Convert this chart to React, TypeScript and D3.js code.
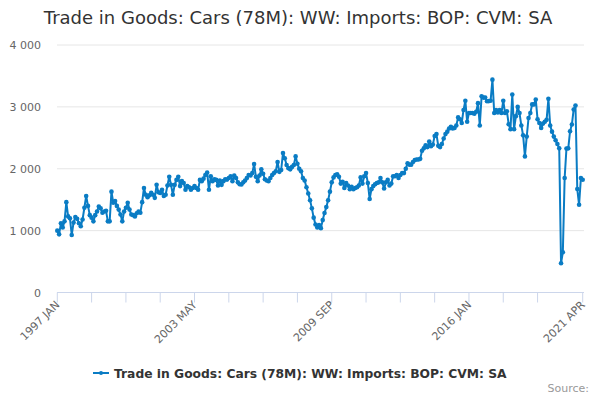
import React from "react";
import * as d3 from "d3";

const title = "Trade in Goods: Cars (78M): WW: Imports: BOP: CVM: SA";
const seriesName = "Trade in Goods: Cars (78M): WW: Imports: BOP: CVM: SA";
const startYear = 1997;
const monthNames = ["JAN","FEB","MAR","APR","MAY","JUN","JUL","AUG","SEP","OCT","NOV","DEC"];

// Monthly values, 1997 JAN .. 2021 APR
const values1997to2004 = [
  1000, 940, 1120, 1050, 1150, 1460, 1230, 1200, 930, 1130,
  1220, 1190, 1120, 1070, 1180, 1370, 1560, 1400, 1250, 1210,
  1150, 1250, 1310, 1390, 1360, 1290, 1310, 1320, 1150, 1150,
  1630, 1450, 1480, 1400, 1340, 1260, 1150, 1310, 1370, 1450,
  1340, 1260, 1250, 1230, 1280, 1310, 1290, 1460, 1690, 1580,
  1540, 1570, 1610, 1580, 1530, 1740, 1620, 1610, 1660, 1560,
  1580, 1730, 1870, 1740, 1580, 1740, 1820, 1870, 1720, 1800,
  1770, 1660, 1720, 1700, 1660, 1690, 1720, 1690, 1660, 1820,
  1800, 1840, 1900, 1940, 1660,
];
const values2004to2012 = [
  1877, 1800, 1830, 1820, 1730, 1810, 1740, 1800, 1830, 1825,
  1850, 1880, 1800, 1890, 1850, 1780, 1750, 1746, 1780, 1810,
  1850, 1900, 1890, 1930, 2077, 1870, 1800, 1890, 1990, 1920,
  1830, 1810, 1800, 1850, 1900, 1930, 1960, 2110, 1950, 1980,
  2255, 2170, 2060, 2010, 1990, 2030, 2060, 2200, 2080, 2000,
  1960, 1850, 1810, 1700, 1600, 1490, 1360, 1210, 1100, 1050,
  1090, 1040, 1170, 1285, 1380, 1490, 1630, 1780, 1860, 1900,
  1910, 1870, 1760, 1790, 1690, 1770, 1730, 1670, 1710, 1670,
  1690, 1700, 1730, 1860, 1760, 1880, 1930, 1770, 1510, 1670,
  1720, 1750, 1770, 1780, 1850, 1780, 1680, 1780, 1820,
];
const values2012to2021 = [
  1730, 1760, 1880, 1880, 1900, 1850, 1900, 1930, 1930, 2000,
  2090, 2066, 2066, 2110, 2140, 2150, 2150, 2160, 2290, 2330,
  2380, 2350, 2440, 2363, 2390, 2530, 2560, 2370, 2350, 2400,
  2490, 2560, 2600, 2650, 2680, 2650, 2660, 2700, 2830, 2800,
  2740, 2950, 3100, 2760, 2900, 2900, 2900, 2890, 2920, 3060,
  2700, 3170, 3150, 3150, 3090, 3093, 3100, 3440, 2900, 2950,
  2910, 2950, 2900, 3100, 2900, 2930, 2720, 2640, 3200, 2640,
  2850, 3000, 2900, 2700, 2540, 2200, 2520, 2820, 2900, 3040,
  3040, 3120, 2800, 2740, 2660, 2730, 2760, 2790, 3130, 2700,
  2600, 2520, 2460, 2400, 2330, 473, 650, 1850, 2326, 2330,
  2606, 2715, 2958, 3023, 1672, 1418, 1850, 1823,
];
const values = [...values1997to2004, ...values2004to2012, ...values2012to2021];
const categories = values.map((_, i) => `${startYear + Math.floor(i / 12)} ${monthNames[i % 12]}`);

const yTicks = [0, 1000, 2000, 3000, 4000];
const xTickLabels = ["1997 JAN", "2003 MAY", "2009 SEP", "2016 JAN", "2021 APR"];

const W = 600, H = 400;
const FONT = "'DejaVu Sans', sans-serif";
const COLOR = "#0a7cc4";

export default function App() {
  const x = d3.scaleLinear().domain([0, values.length - 1]).range([57.3, 582.7]);
  const y = d3.scaleLinear().domain([0, 4000]).range([292.5, 45]);
  const line = d3.line<number>().x((_, i) => x(i)).y((d) => y(d));
  const tickIdx: number[] = [];
  for (let i = 0; i < values.length - 10; i += 19) tickIdx.push(i);
  tickIdx.push(values.length - 1);
  const labelIdx = xTickLabels.map((l) => categories.indexOf(l));
  const fmt = (v: number) => d3.format(",")(v).replace(/,/g, " ");
  return (
    <svg width={W} height={H} style={{ display: "block", position: "absolute", left: 0, top: 0 }} fontFamily={FONT}>
      <rect width={W} height={H} fill="#fff" />
      <text x={298} y={24} textAnchor="middle" fontSize={18} fill="#333">{title}</text>
      {yTicks.map((t) => (
        <g key={t}>
          {t > 0 && <line x1={57} x2={584} y1={y(t)} y2={y(t)} stroke="#e6e6e6" strokeWidth={1} />}
          <text x={41} y={y(t) + 4} textAnchor="end" fontSize={11} fill="#666">{fmt(t)}</text>
        </g>
      ))}
      <line x1={57} x2={584} y1={y(0)} y2={y(0)} stroke="#ccd6eb" strokeWidth={1} />
      {tickIdx.map((i) => (
        <line key={i} x1={x(i)} x2={x(i)} y1={y(0)} y2={y(0) + 10} stroke="#ccd6eb" strokeWidth={1} />
      ))}
      {labelIdx.map((i, k) => (
        <text key={k} transform={`translate(${x(i) + 3},${y(0) + 13}) rotate(-45)`} textAnchor="end" fontSize={11} fill="#666">
          {xTickLabels[k]}
        </text>
      ))}
      <path d={line(values) || ""} fill="none" stroke={COLOR} strokeWidth={2} strokeLinejoin="round" />
      {values.map((v, i) => (
        <circle key={i} cx={x(i)} cy={y(v)} r={2.3} fill={COLOR} />
      ))}
      <g>
        <line x1={93} x2={109} y1={373} y2={373} stroke={COLOR} strokeWidth={2} />
        <circle cx={101} cy={373} r={2} fill={COLOR} />
        <text x={114} y={377.5} fontSize={12.3} fontWeight="bold" fill="#333">{seriesName}</text>
      </g>
      <text x={589} y={392} textAnchor="end" fontSize={11} fill="#999">Source:</text>
    </svg>
  );
}
